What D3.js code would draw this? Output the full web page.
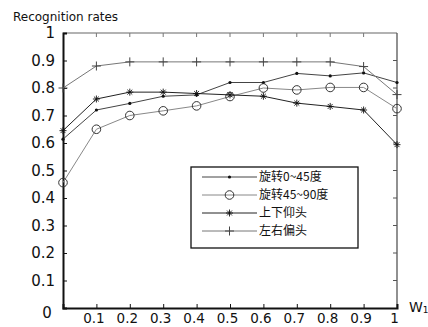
<!DOCTYPE html>
<html>
<head>
<meta charset="utf-8">
<script src="https://cdn.jsdelivr.net/npm/d3@7"></script>
<style>
  body { margin: 0; background: #fff; }
  svg { display: block; font-family: "DejaVu Sans", sans-serif; }
</style>
</head>
<body>
<svg id="chart" width="428" height="327"></svg>
<script>
// data
const xValues = [0, 0.1, 0.2, 0.3, 0.4, 0.5, 0.6, 0.7, 0.8, 0.9, 1];
const rot0to45 = [0.614, 0.72, 0.744, 0.77, 0.775, 0.82, 0.82, 0.853, 0.844, 0.855, 0.82];
const rot45to90 = [0.456, 0.65, 0.70, 0.717, 0.735, 0.769, 0.80, 0.793, 0.802, 0.802, 0.725];
const upDown = [0.645, 0.76, 0.785, 0.785, 0.78, 0.775, 0.77, 0.745, 0.733, 0.72, 0.594];
const leftRight = [0.80, 0.88, 0.895, 0.895, 0.895, 0.895, 0.895, 0.895, 0.895, 0.878, 0.776];
const seriesNames = ['旋转0~45度', '旋转45~90度', '上下仰头', '左右偏头'];
const yTicks = [0, 0.1, 0.2, 0.3, 0.4, 0.5, 0.6, 0.7, 0.8, 0.9, 1];
const xTicks = [0.1, 0.2, 0.3, 0.4, 0.5, 0.6, 0.7, 0.8, 0.9, 1];

const svg = d3.select('#chart');
const mLeft = 63, mRight = 397, mTop = 33, mBottom = 308;

const x = d3.scaleLinear().domain([0, 1]).range([mLeft, mRight]);
const y = d3.scaleLinear().domain([0, 1]).range([mBottom, mTop]);

const series = [
  {name: seriesNames[0], values: rot0to45, line: '#444', width: 1, marker: 'dot'},
  {name: seriesNames[1], values: rot45to90, line: '#888', width: 1, marker: 'circle'},
  {name: seriesNames[2], values: upDown, line: '#222', width: 1, marker: 'star'},
  {name: seriesNames[3], values: leftRight, line: '#777', width: 1, marker: 'plus'}
];

// frame: top and right
svg.append('line').attr('x1', mLeft).attr('x2', mRight).attr('y1', mTop).attr('y2', mTop)
  .attr('stroke', '#999').attr('stroke-width', 1.5);
svg.append('line').attr('x1', mRight).attr('x2', mRight).attr('y1', mTop).attr('y2', mBottom)
  .attr('stroke', '#555').attr('stroke-width', 1.3);

// top ticks and right ticks
svg.append('g').selectAll('line').data(xTicks.slice(0, -1)).enter().append('line')
  .attr('x1', d => x(d)).attr('x2', d => x(d)).attr('y1', mTop).attr('y2', mTop + 4)
  .attr('stroke', '#777');
svg.append('g').selectAll('line').data(yTicks.slice(1, -1)).enter().append('line')
  .attr('x1', mRight).attr('x2', mRight - 4).attr('y1', d => y(d)).attr('y2', d => y(d))
  .attr('stroke', '#555');

// left axis
const yAxis = d3.axisLeft(y).tickValues(yTicks.slice(1)).tickSize(-4).tickPadding(8)
  .tickFormat(d3.format('.1~f'));
const gy = svg.append('g').attr('transform', `translate(${mLeft},0)`).call(yAxis);
gy.select('.domain').attr('stroke', '#111').attr('stroke-width', 2);
gy.selectAll('.tick line').attr('stroke', '#111');
gy.selectAll('.tick text').attr('font-size', 15).attr('fill', '#111')
  .attr('font-family', '"DejaVu Sans", sans-serif');

// bottom axis
const xAxis = d3.axisBottom(x).tickValues(xTicks).tickSize(-4).tickPadding(5)
  .tickFormat(d3.format('.1~f'));
const gx = svg.append('g').attr('transform', `translate(0,${mBottom})`).call(xAxis);
gx.select('.domain').attr('stroke', '#111').attr('stroke-width', 2);
gx.selectAll('.tick line').attr('stroke', '#111');
gx.selectAll('.tick text').attr('font-size', 13.5).attr('fill', '#111').attr('dx', -3)
  .attr('font-family', '"DejaVu Sans", sans-serif');

// the "0" at the corner
svg.append('text').attr('x', 47).attr('y', 318).attr('text-anchor', 'middle')
  .attr('font-size', 15).attr('fill', '#111').text('0');

// axis titles
svg.append('text').attr('x', 13).attr('y', 21).attr('font-size', 12)
  .attr('fill', '#111').text('Recognition rates');
const wt = svg.append('text').attr('x', 409).attr('y', 312).attr('font-size', 14).attr('fill', '#111');
wt.append('tspan').text('W');
wt.append('tspan').attr('font-size', 9).attr('dy', 1).text('1');

// lines
const line = d3.line().x((d, i) => x(xValues[i])).y(d => y(d));

function drawMarker(g, type, cx, cy) {
  if (type === 'dot') {
    g.append('circle').attr('cx', cx).attr('cy', cy).attr('r', 1.6).attr('fill', '#111');
  } else if (type === 'circle') {
    g.append('circle').attr('cx', cx).attr('cy', cy).attr('r', 4.3)
      .attr('fill', 'none').attr('stroke', '#333').attr('stroke-width', 1);
  } else if (type === 'star') {
    const s = 3.5, t = s * 0.7;
    g.append('path')
      .attr('d', `M${cx - s},${cy}H${cx + s}M${cx},${cy - s}V${cy + s}` +
        `M${cx - t},${cy - t}L${cx + t},${cy + t}M${cx - t},${cy + t}L${cx + t},${cy - t}`)
      .attr('stroke', '#111').attr('stroke-width', 0.9);
  } else if (type === 'plus') {
    const s = 4.5;
    g.append('path')
      .attr('d', `M${cx - s},${cy}H${cx + s}M${cx},${cy - s}V${cy + s}`)
      .attr('stroke', '#444').attr('stroke-width', 1);
  }
}

series.forEach(s => {
  const g = svg.append('g');
  g.append('path').datum(s.values).attr('d', line)
    .attr('fill', 'none').attr('stroke', s.line).attr('stroke-width', s.width);
  s.values.forEach((v, i) => drawMarker(g, s.marker, x(xValues[i]), y(v)));
});

// legend
const lg = svg.append('g');
lg.append('rect').attr('x', 191).attr('y', 167).attr('width', 167).attr('height', 81)
  .attr('fill', '#fff').attr('stroke', '#111').attr('stroke-width', 1.3);
series.forEach((s, i) => {
  const ly = 177 + i * 18;
  lg.append('line').attr('x1', 202).attr('x2', 257).attr('y1', ly).attr('y2', ly)
    .attr('stroke', s.line).attr('stroke-width', s.width);
  drawMarker(lg, s.marker, 229.5, ly);
  lg.append('text').attr('x', 259).attr('y', ly).attr('dy', '0.36em')
    .attr('font-family', '"Noto Sans CJK SC", sans-serif').attr('font-size', 12)
    .attr('fill', '#111').text(s.name);
});
</script>
</body>
</html>
